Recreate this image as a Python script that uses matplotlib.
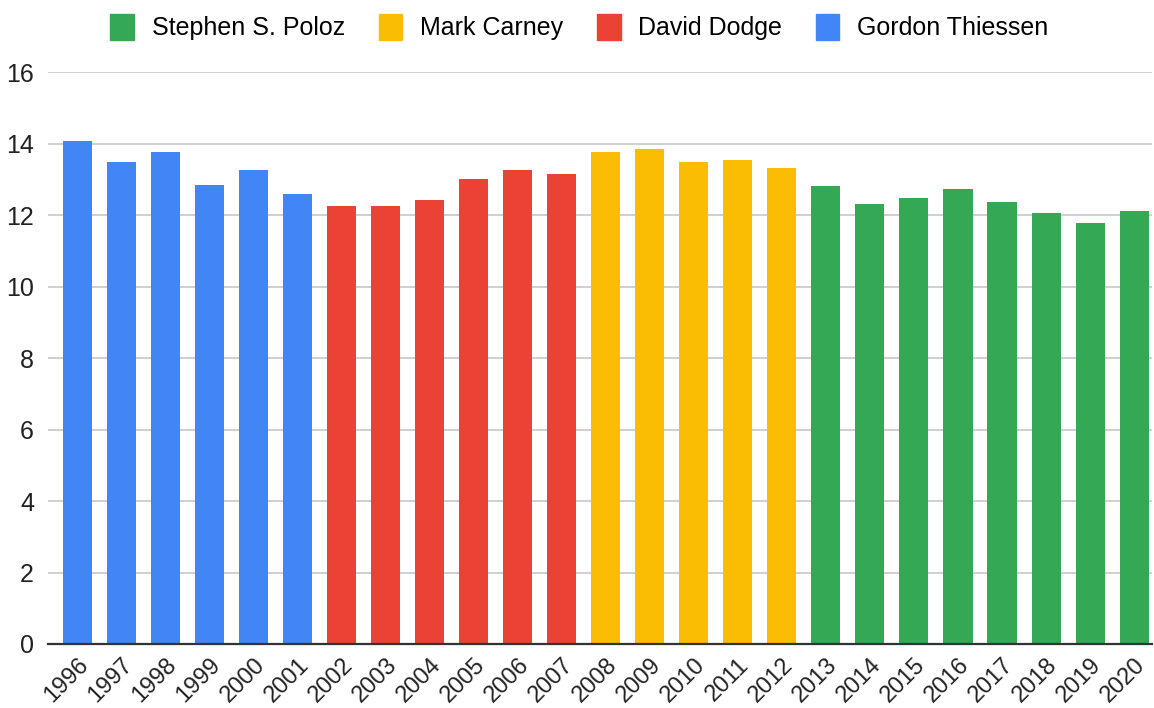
import matplotlib
matplotlib.use("Agg")
import matplotlib.pyplot as plt
from matplotlib.patches import Patch

# ---
# DATA
# -----
years = [str(y) for y in range(1996, 2021)]
values = [14.08, 13.48, 13.78, 12.84, 13.25, 12.60,
          12.25, 12.25, 12.43, 13.02, 13.25, 13.14,
          13.78, 13.84, 13.48, 13.55, 13.31,
          12.83, 12.30, 12.48, 12.72, 12.37, 12.07, 11.77, 12.13]
governors = (["Gordon Thiessen"] * 6 + ["David Dodge"] * 6 +
             ["Mark Carney"] * 5 + ["Stephen S. Poloz"] * 8)

legend_order = ["Stephen S. Poloz", "Mark Carney", "David Dodge", "Gordon Thiessen"]
colors = {
    "Gordon Thiessen": "#4285F4",
    "David Dodge": "#EA4335",
    "Mark Carney": "#FBBC04",
    "Stephen S. Poloz": "#34A853",
}

# ---
# PLOT
# -----
plt.rcParams["font.family"] = ["Liberation Sans", "DejaVu Sans"]

fig = plt.figure(figsize=(11.54, 7.08), dpi=100)
ax = fig.add_axes([0.0416, 0.0904, 0.9564, 0.8076])

x = list(range(len(years)))
ax.bar(x, values, width=0.66, color=[colors[g] for g in governors], zorder=3)

ax.set_xlim(-0.67, 24.4)
ax.set_ylim(0, 16)
ax.set_yticks(range(0, 17, 2))
ax.grid(axis="y", color="#cccccc", linewidth=1.3, zorder=0)

for side in ["top", "right", "left"]:
    ax.spines[side].set_visible(False)
ax.spines["bottom"].set_color("#333333")
ax.spines["bottom"].set_linewidth(1.6)
ax.spines["bottom"].set_zorder(4)

ax.set_xticks(x)
ax.set_xticklabels(years, rotation=45, ha="right", va="top", rotation_mode="anchor")
ax.tick_params(axis="x", length=0, pad=7, labelsize=17, labelcolor="#222222")
ax.tick_params(axis="y", length=0, pad=10, labelsize=18, labelcolor="#222222")

handles = [Patch(facecolor=colors[g], edgecolor=colors[g], label=g) for g in legend_order]
fig.legend(handles=handles, loc="upper center", bbox_to_anchor=(0.502, 1.012),
           ncol=4, frameon=False, fontsize=18, handlelength=0.95, handleheight=1.2,
           handletextpad=0.7, columnspacing=1.35)

fig.savefig("out.png", dpi=100)
